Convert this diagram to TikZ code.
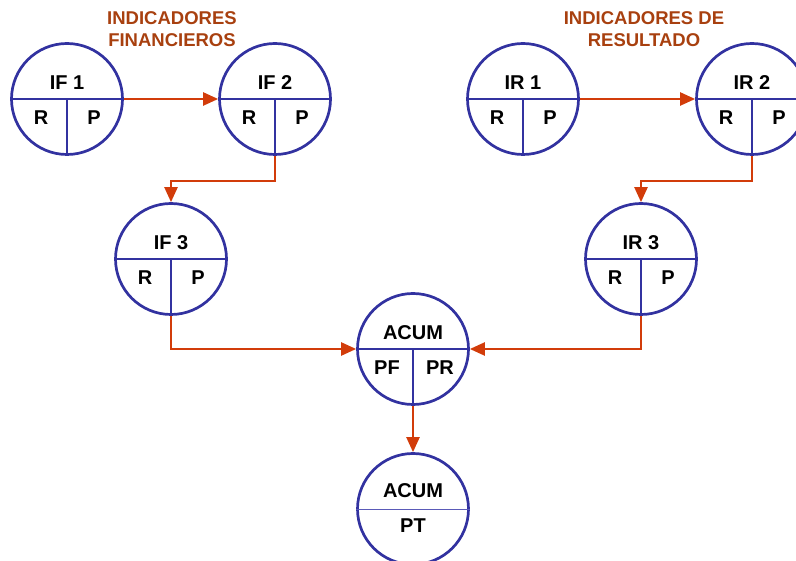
\documentclass[tikz,border=0pt]{standalone}
\usepackage{fontspec}
\setmainfont{Liberation Sans}
\usetikzlibrary{arrows.meta}
\definecolor{ringc}{HTML}{3232A0}
\definecolor{thinc}{HTML}{5A5AB8}
\definecolor{flowc}{HTML}{D23C0A}
\definecolor{headc}{HTML}{A8400F}
\tikzset{
  ring/.style={circle, draw=ringc, line width=2.7pt, minimum size=111pt, inner sep=0pt},
  divider/.style={draw=ringc, line width=2.6pt},
  thindivider/.style={draw=thinc, line width=1pt},
  lbl/.style={font=\bfseries\fontsize{20}{24}\selectfont, inner sep=0pt, text=black},
  heading/.style={font=\bfseries\fontsize{18.5}{22}\selectfont, text=headc, align=center, inner sep=0pt},
  flowline/.style={draw=flowc, line width=2.3pt, -{Triangle[length=15pt,width=13pt]}}
}
\newcommand\ringnode[6]{%
  \node[ring] (#1) at (#2,#3) {};
  \draw[divider] (#1.west) -- (#1.east) (#1.center) -- (#1.south);
  \node[lbl] (#1-t) at ([yshift=16pt]#1.center) {#4};
  \node[lbl] (#1-l) at ([shift={(-26pt,-18.5pt)}]#1.center) {#5};
  \node[lbl] (#1-r) at ([shift={(27pt,-18.5pt)}]#1.center) {#6};
}
\begin{document}
\begin{tikzpicture}[x=1pt,y=-1pt]
\useasboundingbox (0,0) rectangle (796,561);
\node[heading] (hf) at (172,29.5) {INDICADORES\\FINANCIEROS};
\node[heading] (hr) at (644,29.5) {INDICADORES DE\\RESULTADO};
\ringnode{if1}{67}{99}{IF 1}{R}{P}
\ringnode{if2}{275}{99}{IF 2}{R}{P}
\ringnode{if3}{171}{259}{IF 3}{R}{P}
\ringnode{ir1}{523}{99}{IR 1}{R}{P}
\ringnode{ir2}{752}{99}{IR 2}{R}{P}
\ringnode{ir3}{641}{259}{IR 3}{R}{P}
\ringnode{acum}{413}{349}{ACUM}{PF}{PR}
\node[ring] (pt) at (413,509) {};
\draw[thindivider] (pt.west) -- (pt.east);
\node[lbl] (pt-t) at ([yshift=18.5pt]pt.center) {ACUM};
\node[lbl] (pt-b) at ([yshift=-17pt]pt.center) {PT};
\draw[flowline] (if1) -- (if2);
\draw[flowline] (if2.south) -- ++(0,25) -| (if3.north);
\draw[flowline] (if3.south) |- (acum.west);
\draw[flowline] (ir1) -- (ir2);
\draw[flowline] (ir2.south) -- ++(0,25) -| (ir3.north);
\draw[flowline] (ir3.south) |- (acum.east);
\draw[flowline] (acum) -- (pt);
\end{tikzpicture}
\end{document}
